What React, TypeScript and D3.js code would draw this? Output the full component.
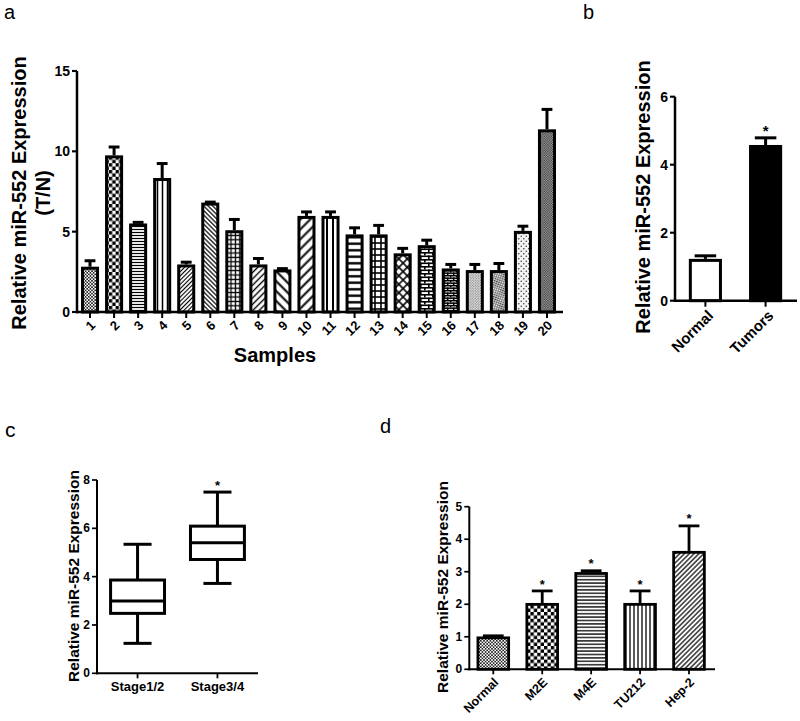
import React from 'react';
import * as d3 from 'd3';

// ---------- Data ----------
// Panel a
const sampleLabels = ['1','2','3','4','5','6','7','8','9','10','11','12','13','14','15','16','17','18','19','20'];
const sampleMeans = [2.82, 9.75, 5.51, 8.34, 2.96, 6.81, 5.09, 2.96, 2.65, 5.98, 5.98, 4.83, 4.83, 3.65, 4.16, 2.71, 2.61, 2.61, 5.05, 11.37];
const sampleErrors = [0.37, 0.52, 0.07, 0.90, 0.14, 0.03, 0.67, 0.37, 0.05, 0.25, 0.25, 0.41, 0.56, 0.31, 0.31, 0.25, 0.35, 0.41, 0.29, 1.24];
const ticksA = [0, 5, 10, 15];

// Panel b
const tissueGroups = ['Normal', 'Tumors'];
const tissueMeans = [1.23, 4.58];
const tissueErrors = [0.09, 0.21];
const tissueSig = [false, true];
const ticksB = [0, 2, 4, 6];

// Panel c
const stageGroups = ['Stage1/2', 'Stage3/4'];
const stageMin = [1.24, 3.72];
const stageQ1 = [2.48, 4.71];
const stageMedian = [2.99, 5.40];
const stageQ3 = [3.86, 6.09];
const stageMax = [5.34, 7.50];
const stageSig = [false, true];
const ticksC = [0, 2, 4, 6, 8];

// Panel d
const cellLines = ['Normal', 'M2E', 'M4E', 'TU212', 'Hep-2'];
const cellMeans = [1.01, 2.04, 2.99, 2.04, 3.64];
const cellErrors = [0.02, 0.37, 0.04, 0.37, 0.77];
const cellSig = [false, true, true, true, true];
const ticksD = [0, 1, 2, 3, 4, 5];

// ---------- Styles ----------
const FONT = '"Liberation Sans", Arial, Helvetica, sans-serif';
const patternsA = ['fineChk', 'bigChk', 'hFine', 'vMed', 'diagFineR', 'diagFineL', 'gridSmall', 'diagMedR', 'diagWideL', 'diagWideR',
  'vWide', 'hWide', 'gridWide', 'cross', 'brick', 'brickSmall', 'stipple', 'darkStipple', 'sparseDots', 'fineChkDark'];
const fillsB = ['#ffffff', '#000000'];
const patternsD = ['fineChk', 'chkD', 'hFineD', 'vFineD', 'diagD'];

function hatch(id: string, s: number, w: number, angle: number) {
  return (
    <pattern key={id} id={id} patternUnits="userSpaceOnUse" width={s} height={s} patternTransform={`rotate(${angle})`}>
      <rect width={s} height={s} fill="#fff" />
      <line x1={s / 2} y1={-1} x2={s / 2} y2={s + 1} stroke="#000" strokeWidth={w} />
    </pattern>
  );
}
function checker(id: string, a: number, fg = '#000', bg = '#fff') {
  return (
    <pattern key={id} id={id} patternUnits="userSpaceOnUse" width={2 * a} height={2 * a}>
      <rect width={2 * a} height={2 * a} fill={bg} />
      <rect x={0} y={0} width={a} height={a} fill={fg} />
      <rect x={a} y={a} width={a} height={a} fill={fg} />
    </pattern>
  );
}
function grid(id: string, s: number, w: number, angle = 0) {
  return (
    <pattern key={id} id={id} patternUnits="userSpaceOnUse" width={s} height={s} patternTransform={`rotate(${angle})`}>
      <rect width={s} height={s} fill="#fff" />
      <line x1={s / 2} y1={-1} x2={s / 2} y2={s + 1} stroke="#000" strokeWidth={w} />
      <line x1={-1} y1={s / 2} x2={s + 1} y2={s / 2} stroke="#000" strokeWidth={w} />
    </pattern>
  );
}
function brick(id: string, w: number, h: number, lw: number, bg = '#fff') {
  return (
    <pattern key={id} id={id} patternUnits="userSpaceOnUse" width={w} height={h}>
      <rect width={w} height={h} fill={bg} />
      <rect x={0} y={0} width={w} height={lw} fill="#000" />
      <rect x={0} y={h / 2} width={w} height={lw} fill="#000" />
      <rect x={0} y={0} width={lw} height={h / 2} fill="#000" />
      <rect x={w / 2} y={h / 2} width={lw} height={h / 2} fill="#000" />
    </pattern>
  );
}
function dots(id: string, s: number, r: number, fg = '#000', bg = '#fff', angle = 0) {
  return (
    <pattern key={id} id={id} patternUnits="userSpaceOnUse" width={s} height={s} patternTransform={`rotate(${angle})`}>
      <rect width={s} height={s} fill={bg} />
      <circle cx={s / 4} cy={s / 4} r={r} fill={fg} />
      <circle cx={(3 * s) / 4} cy={(3 * s) / 4} r={r} fill={fg} />
    </pattern>
  );
}

function Patterns() {
  return (
    <defs>
      {checker('fineChk', 1.6, '#222')}
      {checker('bigChk', 3.4)}
      {hatch('hFine', 3, 1.2, 90)}
      {hatch('vMed', 5, 1.5, 0)}
      {hatch('diagFineR', 3, 1.1, 45)}
      {hatch('diagFineL', 3.2, 1.2, -45)}
      {grid('gridSmall', 4.4, 1.3)}
      {hatch('diagMedR', 4.5, 1.4, 45)}
      {hatch('diagWideL', 7, 2, -45)}
      {hatch('diagWideR', 7, 2, 45)}
      {hatch('vWide', 6, 2, 0)}
      {hatch('hWide', 6.5, 2.4, 90)}
      {grid('gridWide', 6, 1.6)}
      {grid('cross', 6, 1.6, 45)}
      {brick('brick', 8, 7, 1.6)}
      {brick('brickSmall', 6, 5, 1.4, '#ddd')}
      {dots('stipple', 2.6, 0.6, '#555', '#eee')}
      {dots('darkStipple', 2.4, 0.7, '#fff', '#333', 30)}
      {dots('sparseDots', 5, 0.8, '#444', '#f4f4f4')}
      {checker('fineChkDark', 1.2, '#333', '#aaa')}
      {checker('chkD', 3.4)}
      {hatch('hFineD', 3.4, 1.3, 90)}
      {hatch('vFineD', 4, 1.3, 0)}
      {hatch('diagD', 3.4, 1.2, 45)}
    </defs>
  );
}

export default function App() {
  // Panel a scales
  const ya = d3.scaleLinear().domain([0, 15]).range([312, 71]);
  const xa = d3.scaleBand<string>().domain(sampleLabels).range([78, 559]).paddingInner(0.25).paddingOuter(0.125);
  // Panel b
  const yb = d3.scaleLinear().domain([0, 6]).range([300.7, 96.7]);
  const xb = d3.scaleBand<string>().domain(tissueGroups).range([675, 796]).paddingInner(0.45).paddingOuter(0.23);
  // Panel c
  const yc = d3.scaleLinear().domain([0, 8]).range([673.3, 480]);
  const xc = d3.scaleBand<string>().domain(stageGroups).range([97, 258]).paddingInner(0.325).paddingOuter(0.17);
  // Panel d
  const yd = d3.scaleLinear().domain([0, 5]).range([669.3, 506.7]);
  const xd = d3.scaleBand<string>().domain(cellLines).range([469.3, 713]).paddingInner(0.315).paddingOuter(0.148);

  const yAxis = (scale: d3.ScaleLinear<number, number>, x: number, ticks: number[], fs: number, tl: number, sw: number) => (
    <g>
      <line x1={x} x2={x} y1={scale(ticks[0]) + sw / 2} y2={scale(ticks[ticks.length - 1])} stroke="#000" strokeWidth={sw} />
      {ticks.map((t) => (
        <g key={t}>
          <line x1={x - tl} x2={x} y1={scale(t)} y2={scale(t)} stroke="#000" strokeWidth={sw * 0.85} />
          <text x={x - tl - 2} y={scale(t)} textAnchor="end" dominantBaseline="central" fontSize={fs} fontWeight="bold">{t}</text>
        </g>
      ))}
    </g>
  );

  const barGroup = (
    labels: string[], means: number[], errs: number[], x: d3.ScaleBand<string>, y: d3.ScaleLinear<number, number>,
    fills: string[], sw: number, capFrac: number, sig?: boolean[], starSize = 14
  ) => labels.map((l, i) => {
    const x0 = x(l)!;
    const bw = x.bandwidth();
    const cx = x0 + bw / 2;
    const top = y(means[i]);
    const et = y(means[i] + errs[i]);
    const cap = bw * capFrac;
    return (
      <g key={l}>
        <line x1={cx} x2={cx} y1={top} y2={et} stroke="#000" strokeWidth={sw} />
        <line x1={cx - cap / 2} x2={cx + cap / 2} y1={et} y2={et} stroke="#000" strokeWidth={sw} />
        <rect x={x0 + sw / 2} y={top + sw / 2} width={bw - sw} height={y(0) - top - sw / 2} fill={fills[i]} stroke="#000" strokeWidth={sw} />
        {sig && sig[i] && (
          <text x={cx} y={et + starSize * 0.2} textAnchor="middle" fontSize={starSize} fontWeight="bold" transform={`translate(0,-5)`}>*</text>
        )}
      </g>
    );
  });

  return (
    <svg width={800} height={721} style={{ position: 'absolute', left: 0, top: 0 }} fontFamily={FONT}>
      <Patterns />
      <rect width={800} height={721} fill="#fff" />

      {/* Panel letters */}
      <text x={4} y={19} fontSize={20}>a</text>
      <text x={583} y={19} fontSize={20}>b</text>
      <text x={5} y={437} fontSize={21}>c</text>
      <text x={380} y={433} fontSize={20}>d</text>

      {/* ---------- Panel a ---------- */}
      <g>
        {barGroup(sampleLabels, sampleMeans, sampleErrors, xa, ya, patternsA.map((p) => `url(#${p})`), 3, 0.6)}
        {yAxis(ya, 77, ticksA, 14, 5, 2.5)}
        <line x1={75.8} x2={563} y1={ya(0)} y2={ya(0)} stroke="#000" strokeWidth={2.5} />
        {sampleLabels.map((l) => {
          const cx = xa(l)! + xa.bandwidth() / 2;
          return (
            <g key={l}>
              <line x1={cx} x2={cx} y1={ya(0)} y2={ya(0) + 6} stroke="#000" strokeWidth={2} />
              <text transform={`translate(${cx + 3},${ya(0) + 11}) rotate(-45)`} textAnchor="end" dominantBaseline="central" fontSize={13} fontWeight="bold">{l}</text>
            </g>
          );
        })}
        <text transform="translate(19,193) rotate(-90)" textAnchor="middle" dominantBaseline="central" fontSize={20} fontWeight="bold">Relative miR-552 Expression</text>
        <text transform="translate(43,193) rotate(-90)" textAnchor="middle" dominantBaseline="central" fontSize={20} fontWeight="bold">(T/N)</text>
        <text x={275} y={362} textAnchor="middle" fontSize={20} fontWeight="bold">Samples</text>
      </g>

      {/* ---------- Panel b ---------- */}
      <g>
        {barGroup(tissueGroups, tissueMeans, tissueErrors, xb, yb, fillsB, 3, 0.65, tissueSig, 15)}
        {yAxis(yb, 675, ticksB, 14, 5, 2.5)}
        <line x1={673.8} x2={797} y1={yb(0)} y2={yb(0)} stroke="#000" strokeWidth={2.5} />
        {tissueGroups.map((l) => {
          const cx = xb(l)! + xb.bandwidth() / 2;
          return (
            <g key={l}>
              <line x1={cx} x2={cx} y1={yb(0)} y2={yb(0) + 6} stroke="#000" strokeWidth={2} />
              <text transform={`translate(${cx + 5},${yb(0) + 12}) rotate(-45)`} textAnchor="end" dominantBaseline="central" fontSize={15} fontWeight="bold">{l}</text>
            </g>
          );
        })}
        <text transform="translate(643,197) rotate(-90)" textAnchor="middle" dominantBaseline="central" fontSize={20} fontWeight="bold">Relative miR-552 Expression</text>
      </g>

      {/* ---------- Panel c ---------- */}
      <g>
        {stageGroups.map((g, i) => {
          const x0 = xc(g)!;
          const bw = xc.bandwidth();
          const cx = x0 + bw / 2;
          const capW = bw * 0.52;
          return (
            <g key={g} stroke="#000" strokeWidth={3} fill="none">
              <line x1={cx} x2={cx} y1={yc(stageQ3[i])} y2={yc(stageMax[i])} />
              <line x1={cx} x2={cx} y1={yc(stageQ1[i])} y2={yc(stageMin[i])} />
              <line x1={cx - capW / 2} x2={cx + capW / 2} y1={yc(stageMax[i])} y2={yc(stageMax[i])} />
              <line x1={cx - capW / 2} x2={cx + capW / 2} y1={yc(stageMin[i])} y2={yc(stageMin[i])} />
              <rect x={x0} y={yc(stageQ3[i])} width={bw} height={yc(stageQ1[i]) - yc(stageQ3[i])} fill="#fff" />
              <line x1={x0} x2={x0 + bw} y1={yc(stageMedian[i])} y2={yc(stageMedian[i])} />
              {stageSig[i] && (
                <text x={cx} y={yc(stageMax[i]) - 2} textAnchor="middle" fontSize={13} fontWeight="bold" stroke="none" fill="#000">*</text>
              )}
            </g>
          );
        })}
        {yAxis(yc, 97, ticksC, 12, 5, 2)}
        <line x1={96} x2={258} y1={yc(0)} y2={yc(0)} stroke="#000" strokeWidth={2} />
        {stageGroups.map((g) => {
          const cx = xc(g)! + xc.bandwidth() / 2;
          return (
            <g key={g}>
              <line x1={cx} x2={cx} y1={yc(0)} y2={yc(0) + 5} stroke="#000" strokeWidth={1.8} />
              <text x={cx} y={691} textAnchor="middle" fontSize={13} fontWeight="bold">{g}</text>
            </g>
          );
        })}
        <text transform="translate(73,576) rotate(-90)" textAnchor="middle" dominantBaseline="central" fontSize={15.5} fontWeight="bold">Relative miR-552 Expression</text>
      </g>

      {/* ---------- Panel d ---------- */}
      <g>
        {barGroup(cellLines, cellMeans, cellErrors, xd, yd, patternsD.map((p) => `url(#${p})`), 2.8, 0.62, cellSig, 13)}
        {yAxis(yd, 469.3, ticksD, 12, 5, 2)}
        <line x1={468.3} x2={715} y1={yd(0)} y2={yd(0)} stroke="#000" strokeWidth={2} />
        {cellLines.map((l) => {
          const cx = xd(l)! + xd.bandwidth() / 2;
          return (
            <g key={l}>
              <line x1={cx} x2={cx} y1={yd(0)} y2={yd(0) + 5} stroke="#000" strokeWidth={1.8} />
              <text transform={`translate(${cx + 3},${yd(0) + 11}) rotate(-45)`} textAnchor="end" dominantBaseline="central" fontSize={12.5} fontWeight="bold">{l}</text>
            </g>
          );
        })}
        <text transform="translate(442,587) rotate(-90)" textAnchor="middle" dominantBaseline="central" fontSize={15.5} fontWeight="bold">Relative miR-552 Expression</text>
      </g>
    </svg>
  );
}
